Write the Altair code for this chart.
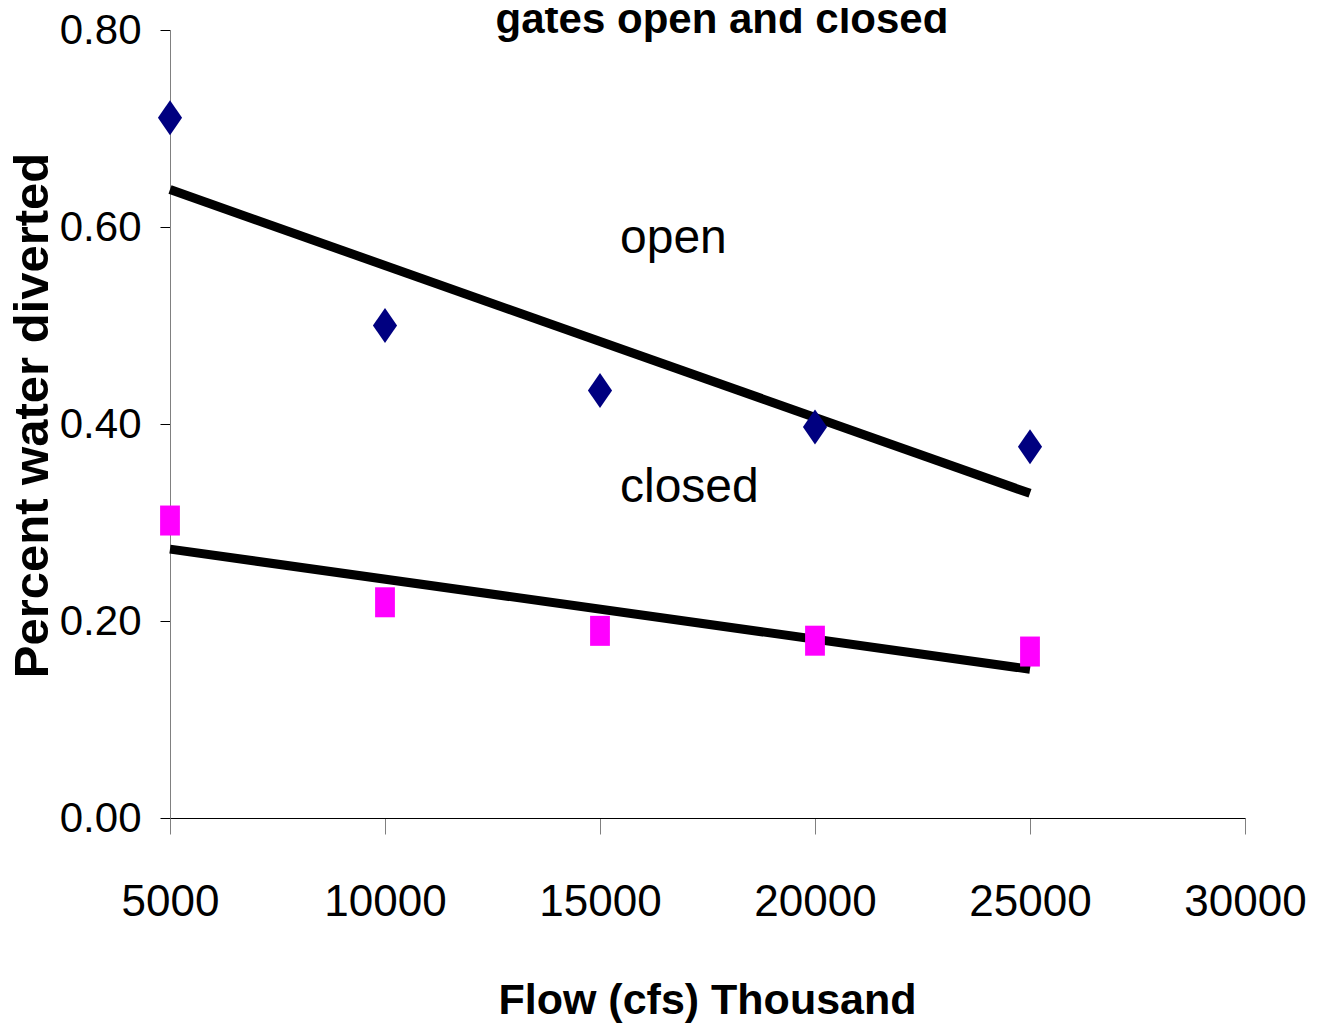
import altair as alt
import pandas as pd

# ---- data ----
flow = [5000, 10000, 15000, 20000, 25000]
open_pct = [0.711, 0.500, 0.434, 0.397, 0.377]
closed_pct = [0.302, 0.219, 0.190, 0.180, 0.169]
series_names = ["open", "closed"]
title_text = "gates open and closed"
x_title = "Flow (cfs) Thousand"
y_title = "Percent water diverted"
x_ticks = [5000, 10000, 15000, 20000, 25000, 30000]
y_ticks = [0.0, 0.2, 0.4, 0.6, 0.8]

df = pd.DataFrame({
    "flow": flow + flow,
    "pct": open_pct + closed_pct,
    "series": [series_names[0]] * len(flow) + [series_names[1]] * len(flow),
})

FONT = "'Liberation Sans', Arial, sans-serif"

x_enc = alt.X("flow:Q",
              scale=alt.Scale(domain=[5000, 30000], nice=False, zero=False),
              axis=alt.Axis(values=x_ticks, format="d", title=x_title,
                            grid=False, domainColor="#000000", tickColor="#808080",
                            tickSize=16, labelPadding=81, labelBaseline="alphabetic",
                            labelFontSize=44, labelFont=FONT, labelColor="#000000",
                            labelOverlap=False, labelFlush=False,
                            titleFont=FONT, titleFontSize=43, titleFontWeight="bold",
                            titleBaseline="alphabetic", titleY=195, titleX=537,
                            titleColor="#000000"))
y_enc = alt.Y("pct:Q",
              scale=alt.Scale(domain=[0, 0.8], nice=False),
              axis=alt.Axis(values=y_ticks, format=".2f", title=y_title,
                            grid=False, domainColor="#808080", tickColor="#000000",
                            tickSize=10, labelPadding=19, labelFontSize=42,
                            labelFont=FONT, labelColor="#000000",
                            labelFlush=False, labelOverlap=False,
                            titleFont=FONT, titleFontSize=49, titleFontWeight="bold",
                            titleAngle=270, titleBaseline="alphabetic",
                            titleX=-123, titleY=385, titleColor="#000000"))

base = alt.Chart(df)

open_pts = base.transform_filter(alt.datum.series == "open").mark_point(
    shape="M0,-1L0.69,0L0,1L-0.69,0Z", size=1225, filled=True, opacity=1,
    color="#000080").encode(x=x_enc, y=y_enc)

closed_pts = base.transform_filter(alt.datum.series == "closed").mark_point(
    shape="M-0.66,-1H0.66V1H-0.66Z", size=900, filled=True, opacity=1,
    color="#FF00FF").encode(x="flow:Q", y="pct:Q")

trend = base.transform_regression("flow", "pct", groupby=["series"]).mark_line(
    color="#000000", strokeWidth=9, strokeCap="butt").encode(
    x="flow:Q", y="pct:Q", detail="series:N")

title_mark = alt.Chart(pd.DataFrame({"t": [title_text]})).mark_text(
    font=FONT, fontSize=42, fontWeight="bold", align="center",
    baseline="alphabetic", color="#000000").encode(
    x=alt.value(552), y=alt.value(3), text="t:N")

lab_open = alt.Chart(pd.DataFrame({"t": [series_names[0]]})).mark_text(
    font=FONT, fontSize=48, align="left", baseline="alphabetic",
    color="#000000").encode(x=alt.value(450), y=alt.value(223), text="t:N")

lab_closed = alt.Chart(pd.DataFrame({"t": [series_names[1]]})).mark_text(
    font=FONT, fontSize=48, align="left", baseline="alphabetic",
    color="#000000").encode(x=alt.value(450), y=alt.value(472), text="t:N")

chart = alt.layer(trend, open_pts, closed_pts, title_mark, lab_open, lab_closed).properties(
    width=1075, height=788,
    background="#ffffff",
    autosize=alt.AutoSizeParams(type="none"),
    padding={"left": 162, "top": 22, "right": 65, "bottom": 206},
).configure_view(stroke=None)

chart.save("out.html", embed_options={"renderer": "svg", "actions": False})
